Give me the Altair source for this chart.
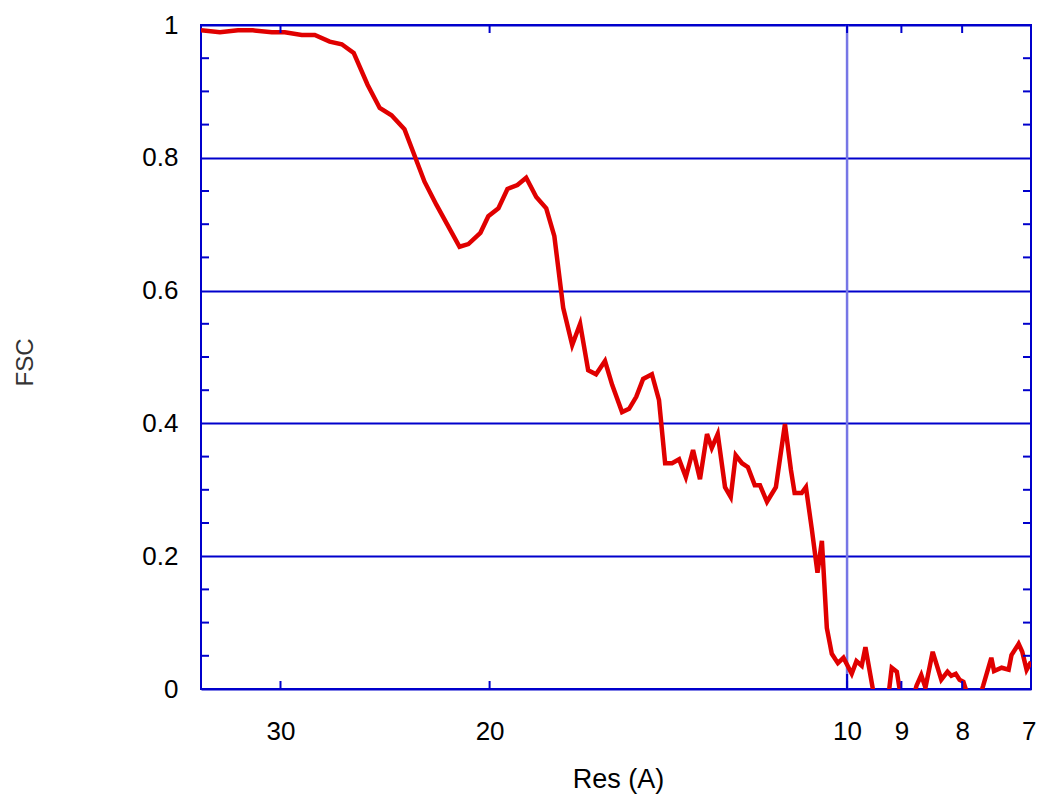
import altair as alt
import pandas as pd

# Resolution (Angstrom) and FSC values
res = [35.00, 33.74, 32.58, 31.65, 30.51, 29.75, 28.79, 28.07, 27.27, 26.64,
       26.03, 25.34, 24.75, 24.19, 23.59, 22.69, 22.17, 21.20, 20.84, 20.36,
       20.05, 19.66, 19.32, 18.95, 18.63, 18.27, 17.92, 17.64, 17.34, 17.04,
       16.78, 16.52, 16.27, 15.99, 15.77, 15.47, 15.26, 15.05, 14.85, 14.60,
       14.40, 14.23, 14.04, 13.85, 13.67, 13.48, 13.30, 13.12, 13.00, 12.85,
       12.67, 12.53, 12.41, 12.26, 12.12, 11.96, 11.84, 11.68, 11.48, 11.28,
       11.15, 11.07, 10.92, 10.83, 10.71, 10.59, 10.50, 10.40, 10.30, 10.18,
       10.07, 9.91, 9.82, 9.72, 9.65, 9.46, 9.35, 9.26, 9.17, 9.08,
       9.00, 8.91, 8.82, 8.74, 8.66, 8.59, 8.47, 8.33, 8.23, 8.17,
       8.10, 8.04, 7.98, 7.90, 7.83, 7.75, 7.68, 7.56, 7.52, 7.41,
       7.31, 7.27, 7.17, 7.12, 7.06, 7.00]

fsc = [0.992, 0.989, 0.992, 0.992, 0.989, 0.989, 0.985, 0.985, 0.975, 0.971,
       0.958, 0.910, 0.875, 0.864, 0.843, 0.764, 0.729, 0.666, 0.670, 0.687,
       0.712, 0.724, 0.753, 0.759, 0.770, 0.741, 0.724, 0.682, 0.574, 0.518,
       0.550, 0.480, 0.474, 0.494, 0.458, 0.417, 0.422, 0.440, 0.467, 0.474,
       0.435, 0.340, 0.340, 0.346, 0.319, 0.360, 0.316, 0.384, 0.363, 0.384,
       0.304, 0.289, 0.352, 0.340, 0.334, 0.307, 0.307, 0.282, 0.304, 0.399,
       0.330, 0.295, 0.295, 0.304, 0.242, 0.175, 0.223, 0.092, 0.053, 0.039,
       0.047, 0.023, 0.042, 0.035, 0.063, -0.024, -0.047, -0.032, 0.032, 0.026,
       -0.017, -0.035, -0.021, 0.005, 0.021, 0.002, 0.056, 0.014, 0.026, 0.020,
       0.023, 0.014, 0.011, -0.014, -0.024, -0.017, 0.005, 0.047, 0.027, 0.032,
       0.029, 0.051, 0.068, 0.056, 0.029, 0.041]

x_ticks = [30, 20, 10, 9, 8, 7]
y_labels = [0, 0.2, 0.4, 0.6, 0.8, 1]
y_minor = [0.05, 0.1, 0.15, 0.25, 0.3, 0.35, 0.45, 0.5, 0.55,
           0.65, 0.7, 0.75, 0.85, 0.9, 0.95]
ref_res = [10]

BLUE = "#0000cc"
FONT = "Liberation Sans"
W, H = 830, 664

df = pd.DataFrame({"res": res, "fsc": fsc})
xt = pd.DataFrame({"res": x_ticks})
ym = pd.DataFrame({"fsc": y_minor})
rr = pd.DataFrame({"res": ref_res})

xscale = alt.Scale(type="log", domain=[7, 35], reverse=True, nice=False)
yscale = alt.Scale(domain=[0, 1], nice=False, zero=False)

xaxis = alt.Axis(
    values=x_ticks, format="d", labelFont=FONT, labelFontSize=26,
    labelColor="black", labelPadding=29, labelFlush=True, labelFlushOffset=5,
    labelOverlap=False,
    ticks=False, tickSize=0, domain=False, grid=False,
    title="Res (A)", titleFont=FONT, titleFontSize=27, titleFontWeight="normal",
    titleColor="black", titleX=417, titleY=90, titleBaseline="middle")

yaxis = alt.Axis(
    values=y_labels, format="~g", labelFont=FONT, labelFontSize=26,
    labelColor="black", labelPadding=23, labelFlush=False,
    ticks=False, tickSize=0, domain=False,
    grid=True, gridColor=BLUE, gridWidth=2, gridOpacity=1,
    title="FSC", titleFont=FONT, titleFontSize=24,
    titleFontWeight="normal", titleColor="#333333",
    titleX=-176, titleY=337, titleBaseline="middle")

X = alt.X("res:Q", scale=xscale, axis=xaxis)
Y = alt.Y("fsc:Q", scale=yscale, axis=yaxis)

vline = alt.Chart(rr).mark_rule(color="#7676e6", strokeWidth=2.5).encode(x=X)

line = alt.Chart(df).mark_line(color="#e00000", strokeWidth=4.5, clip=True).encode(
    x=X, y=Y, order=alt.Order("res:Q", sort="descending"))

vline_tick = alt.Chart(rr).mark_rule(color=BLUE, strokeWidth=2).encode(
    x=X, y=alt.value(H), y2=alt.value(H - 15))

xt_bottom = alt.Chart(xt).mark_rule(color=BLUE, strokeWidth=2).encode(
    x=X, y=alt.value(H), y2=alt.value(H - 8))

xt_top = alt.Chart(xt).mark_rule(color=BLUE, strokeWidth=2).encode(
    x=X, y=alt.value(0), y2=alt.value(8))

yt_left = alt.Chart(ym).mark_rule(color=BLUE, strokeWidth=2).encode(
    y=Y, x=alt.value(0), x2=alt.value(8))

yt_right = alt.Chart(ym).mark_rule(color=BLUE, strokeWidth=2).encode(
    y=Y, x=alt.value(W), x2=alt.value(W - 8))

chart = alt.layer(
    vline, line, vline_tick, xt_bottom, xt_top, yt_left, yt_right
).properties(
    width=W, height=H,
    autosize=alt.AutoSizeParams(type="none"),
    padding={"left": 193, "top": 17, "right": 6, "bottom": 105},
).configure_view(stroke=BLUE, strokeWidth=2)

chart.save("out.html", embed_options={"renderer": "svg", "actions": False})
